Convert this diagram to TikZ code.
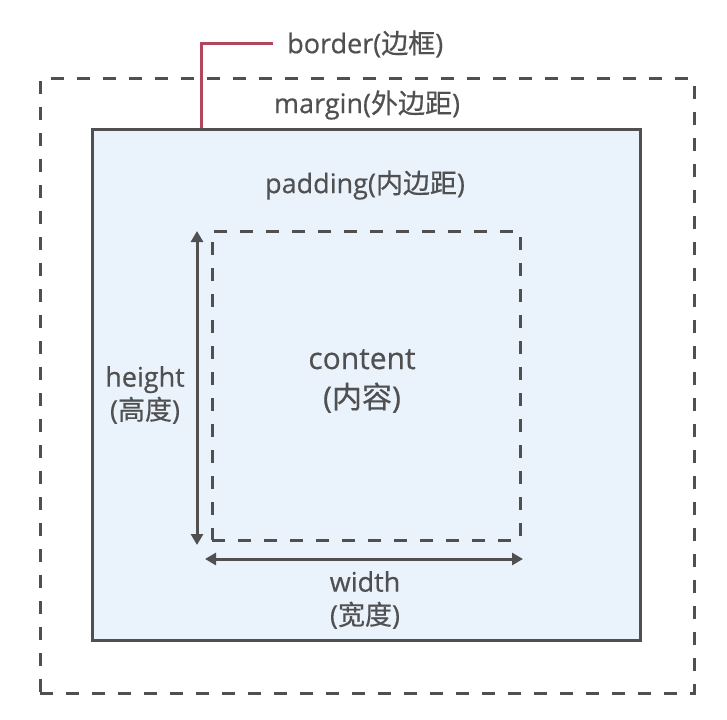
\documentclass[tikz,border=0pt]{standalone}
\usepackage{fontspec}
\setmainfont[FakeBold=0.5,UprightFeatures={FakeBold=0.5}]{Open Sans}
\newfontfamily\cjk[UprightFeatures={FakeBold=0.5}]{Noto Sans CJK SC}
\usetikzlibrary{arrows.meta,calc}
\definecolor{txt}{HTML}{505050}
\definecolor{boxfill}{HTML}{EAF2FC}
\definecolor{redline}{HTML}{B2475C}
\tikzset{
  lbl/.style={text=txt,inner sep=0pt,align=center,font=\fontsize{27}{33}\selectfont},
  dashbox/.style={draw=txt,line width=3pt,dash pattern=on 13pt off 13pt,inner sep=0pt},
  dimarrow/.style={draw=txt,line width=3pt,{Triangle[length=11pt,width=12pt]}-{Triangle[length=11pt,width=12pt]}}
}
\begin{document}
\begin{tikzpicture}[x=1pt,y=-1pt]
\useasboundingbox (0,0) rectangle (727,719);
\node[dashbox,minimum width=654pt,minimum height=614pt] (margin) at (367,386) {};
\node[draw=txt,fill=boxfill,line width=3pt,inner sep=0pt,minimum width=548pt,minimum height=510pt] (border) at (366,385) {};
\node[dashbox,minimum width=308pt,minimum height=309pt] (content) at (366,385.5) {};
\node[lbl,anchor=west] (borderlbl) at (287,44) {border({\cjk 边框})};
\node[lbl] (marginlbl) at (367,105) {margin({\cjk 外边距})};
\node[lbl] (paddinglbl) at (365,185) {padding({\cjk 内边距})};
\node[lbl,font=\fontsize{30}{39}\selectfont] (contentlbl) at (362,381) {content\\({\cjk 内容})};
\node[lbl] (heightlbl) at (145,395) {height\\({\cjk 高度})};
\node[lbl] (widthlbl) at (365,600) {width\\({\cjk 宽度})};
\coordinate (h1) at (197,231);
\coordinate (h2) at (197,545);
\coordinate (w1) at (205,559);
\coordinate (w2) at (523,559);
\draw[dimarrow] (h1) -- (h2);
\draw[dimarrow] (w1) -- (w2);
\coordinate (bend) at (201,44);
\draw[redline,line width=3pt] (border.north -| bend) -- (bend) -- ([xshift=-14pt]borderlbl.west);
\end{tikzpicture}
\end{document}
